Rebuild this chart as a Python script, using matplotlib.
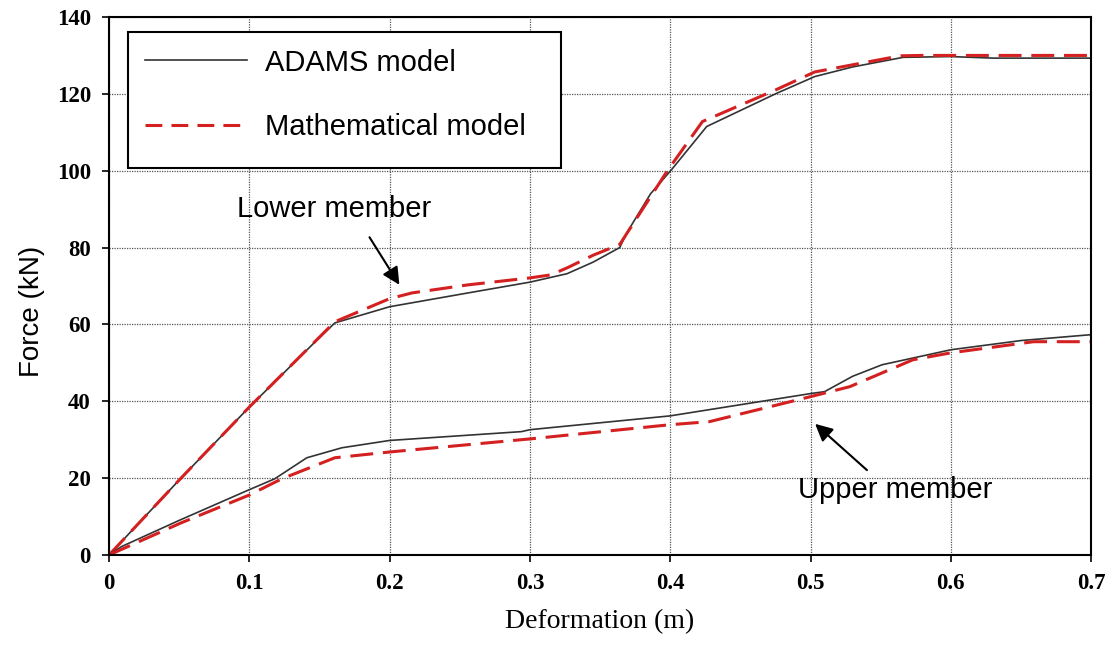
import matplotlib
matplotlib.use('Agg')
import matplotlib.pyplot as plt
from matplotlib.patches import Rectangle

# Lower member curves
lower_adams_x = [0, 0.05, 0.1, 0.147, 0.161, 0.2, 0.256, 0.3, 0.3265, 0.345, 0.364, 0.369, 0.386,
                 0.401, 0.426, 0.475, 0.503, 0.53, 0.566, 0.6, 0.63, 0.7]
lower_adams_y = [0, 19.5, 38.5, 55.5, 60.4, 64.6, 68.2, 71.0, 73.2, 76.2, 80.0, 83.8, 94.0,
                 100.3, 111.5, 120.0, 124.5, 127.0, 129.5, 129.7, 129.3, 129.3]
lower_math_x = [0, 0.05, 0.1, 0.161, 0.2, 0.216, 0.256, 0.3, 0.315, 0.327, 0.345, 0.364,
                0.398, 0.423, 0.475, 0.503, 0.564, 0.58, 0.7]
lower_math_y = [0, 19.5, 38.5, 60.7, 66.7, 68.2, 70.3, 72.1, 72.9, 74.8, 78.0, 80.8,
                100.0, 112.8, 121.0, 125.7, 129.9, 130.0, 130.0]

# Upper member curves
upper_adams_x = [0, 0.009, 0.05, 0.1, 0.118, 0.141, 0.166, 0.2, 0.294, 0.3, 0.4, 0.5,
                 0.51, 0.53, 0.551, 0.6, 0.65, 0.699]
upper_adams_y = [0, 2.2, 9.0, 17.0, 19.8, 25.3, 27.9, 29.8, 32.1, 32.6, 36.2, 42.0,
                 42.5, 46.5, 49.5, 53.4, 55.8, 57.3]
upper_math_x = [0, 0.051, 0.1, 0.123, 0.161, 0.2, 0.294, 0.3, 0.4, 0.428, 0.468, 0.5,
                0.528, 0.573, 0.6, 0.659, 0.7]
upper_math_y = [0, 8.3, 15.6, 19.8, 25.3, 26.8, 30.0, 30.2, 33.9, 34.7, 38.3, 41.2,
                43.8, 50.8, 52.6, 55.5, 55.5]

x_ticks = [0, 0.1, 0.2, 0.3, 0.4, 0.5, 0.6, 0.7]
x_tick_labels = ['0', '0.1', '0.2', '0.3', '0.4', '0.5', '0.6', '0.7']
y_ticks = [0, 20, 40, 60, 80, 100, 120, 140]

sans = 'Liberation Sans'
serif = 'Liberation Serif'
black_col = '#333333'
red_col = '#d42020'

fig = plt.figure(figsize=(11.16, 6.64), dpi=100)
ax = fig.add_axes([0.0977, 0.1642, 0.88, 0.8102])

ax.plot(lower_adams_x, lower_adams_y, color=black_col, lw=1.2, label='ADAMS model')
ax.plot(lower_math_x, lower_math_y, color=red_col, lw=2.2, dashes=(7.5, 3.2),
        label='Mathematical model')
ax.plot(upper_adams_x, upper_adams_y, color=black_col, lw=1.2)
ax.plot(upper_math_x, upper_math_y, color=red_col, lw=2.2, dashes=(7.5, 3.2))

ax.set_xlim(0, 0.7)
ax.set_ylim(0, 140)
ax.set_xticks(x_ticks)
ax.set_xticklabels(x_tick_labels)
ax.set_yticks(y_ticks)
for lab in ax.get_xticklabels() + ax.get_yticklabels():
    lab.set_fontfamily(serif)
    lab.set_fontweight('bold')
    lab.set_fontsize(16.5)
ax.tick_params(direction='out', length=5, width=1.2, pad=8, colors='black')

ax.grid(True, color='#555555', linestyle=(0, (1, 1)), linewidth=0.9)
for sp in ax.spines.values():
    sp.set_linewidth(1.5)
    sp.set_color('black')

ax.set_xlabel('Deformation (m)', fontfamily=serif, fontsize=20, labelpad=11)
ax.set_ylabel('Force (kN)', fontfamily=sans, fontsize=20)
ax.yaxis.set_label_coords(-0.065, 0.4535)

# legend box (frame drawn separately so its size matches the original)
ax.add_patch(Rectangle((0.0193, 0.719), 0.441, 0.253, transform=ax.transAxes,
                       facecolor='white', edgecolor='black', lw=1.5, zorder=4))
leg = ax.legend(loc='upper left', bbox_to_anchor=(0.0193, 0.972), borderaxespad=0,
                prop={'family': sans, 'size': 21}, frameon=False,
                handlelength=3.5, handletextpad=0.62, labelspacing=1.24, borderpad=0.57)
leg.set_zorder(5)
leg.get_lines()[1].set_dashes((5.5, 3.0))

ax.text(0.0912, 88, 'Lower member', fontfamily=sans, fontsize=21, va='baseline')
ax.annotate('', xy=(0.208, 69.7), xytext=(0.1846, 83.3),
            arrowprops=dict(arrowstyle='-|>', color='black', lw=1.5, mutation_scale=26))
ax.text(0.491, 14.8, 'Upper member', fontfamily=sans, fontsize=21, va='baseline')
ax.annotate('', xy=(0.5018, 34.6), xytext=(0.5417, 21.6),
            arrowprops=dict(arrowstyle='-|>', color='black', lw=1.5, mutation_scale=26))

fig.savefig('out.png', dpi=100)
